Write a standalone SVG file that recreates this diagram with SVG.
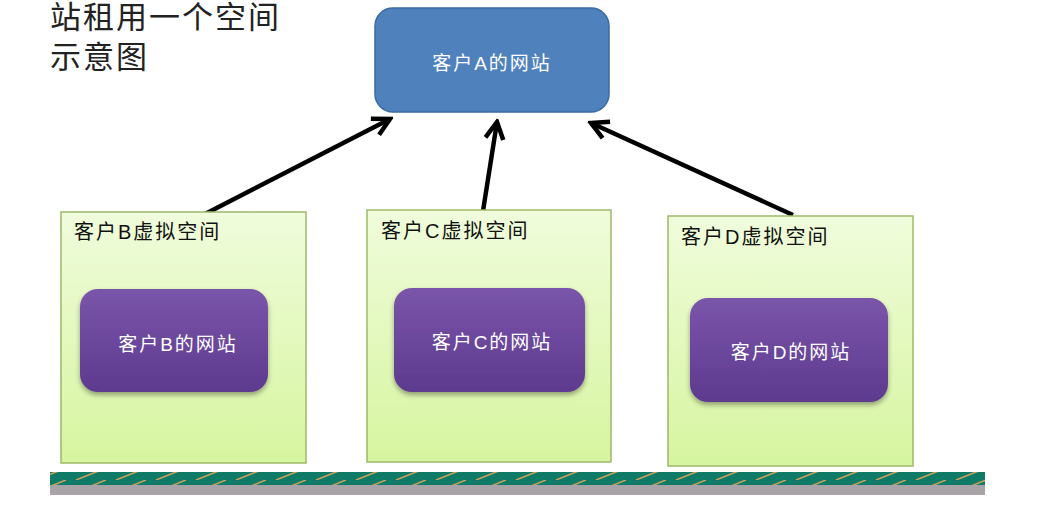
<svg xmlns="http://www.w3.org/2000/svg" width="1060" height="511" viewBox="0 0 1060 511">
<style>
.title{font-family:"Liberation Sans","Noto Sans CJK SC",sans-serif;font-size:31px;letter-spacing:2px;fill:#222}
.lbl{font-family:"Liberation Sans","Noto Sans CJK SC",sans-serif;font-size:20px;letter-spacing:2px;fill:#111}
.wt{font-family:"Liberation Sans","Noto Sans CJK SC",sans-serif;font-size:19px;letter-spacing:2px;fill:#fff;text-anchor:middle}
.space{fill:url(#gGreen);stroke:#9fb86a;stroke-width:1.5}
.site{fill:url(#gPurple);filter:url(#sh)}
.conn{stroke:#000;stroke-width:4.5;fill:none;marker-end:url(#ah)}
</style>
<defs>
<linearGradient id="gGreen" x1="0" y1="0" x2="0" y2="1">
<stop offset="0" stop-color="#f0fcdc"/><stop offset="1" stop-color="#d6f59f"/>
</linearGradient>
<linearGradient id="gPurple" x1="0" y1="0" x2="0" y2="1">
<stop offset="0" stop-color="#7a55aa"/><stop offset="1" stop-color="#5d3a8e"/>
</linearGradient>
<filter id="sh" x="-10%" y="-10%" width="125%" height="130%">
<feDropShadow dx="0" dy="3" stdDeviation="2.5" flood-color="#000" flood-opacity="0.35"/>
</filter>
<marker id="ah" viewBox="0 0 10 10" refX="8.5" refY="5" markerWidth="5" markerHeight="5" orient="auto" markerUnits="strokeWidth">
<path d="M1,1 L8.5,5 L1,9" fill="none" stroke="#000" stroke-width="2"/>
</marker>
<pattern id="stripe" patternUnits="userSpaceOnUse" width="40" height="12">
<rect width="40" height="12" fill="#0f7a66"/>
<path d="M-4,12 L26,0 M36,12 L66,0" stroke="#c9a05a" stroke-width="1.5"/>
</pattern>
</defs>
<rect width="1060" height="511" fill="#fff"/>
<text class="title" x="50" y="28">站租用一个空间</text>
<text class="title" x="50" y="68">示意图</text>
<g id="conns">
<line class="conn" x1="205" y1="214" x2="390" y2="119"/>
<line class="conn" x1="483" y1="211" x2="497" y2="122"/>
<line class="conn" x1="793" y1="215" x2="591" y2="123"/>
</g>
<g id="siteA">
<rect x="375" y="8" width="234" height="104" rx="18" fill="#4f81bd" stroke="#3b6aa0" stroke-width="1.5"/>
<text class="wt" x="492" y="70">客户A的网站</text>
</g>
<g id="spaceB">
<rect class="space" x="61" y="212" width="245" height="251"/>
<text class="lbl" x="74" y="239">客户B虚拟空间</text>
</g>
<g id="siteB">
<rect class="site" x="80" y="289" width="188" height="103" rx="18"/>
<text class="wt" x="178" y="351">客户B的网站</text>
</g>
<g id="spaceC">
<rect class="space" x="367" y="210" width="244" height="252"/>
<text class="lbl" x="381" y="238">客户C虚拟空间</text>
</g>
<g id="siteC">
<rect class="site" x="394" y="288" width="191" height="104" rx="18"/>
<text class="wt" x="492" y="349">客户C的网站</text>
</g>
<g id="spaceD">
<rect class="space" x="668" y="216" width="245" height="250"/>
<text class="lbl" x="681" y="244">客户D虚拟空间</text>
</g>
<g id="siteD">
<rect class="site" x="690" y="298" width="198" height="104" rx="18"/>
<text class="wt" x="791" y="359">客户D的网站</text>
</g>
<g id="ground">
<rect x="50" y="472" width="935" height="13" fill="url(#stripe)"/>
<rect x="50" y="485" width="935" height="10" fill="#a8a3a6"/>
</g>
</svg>
